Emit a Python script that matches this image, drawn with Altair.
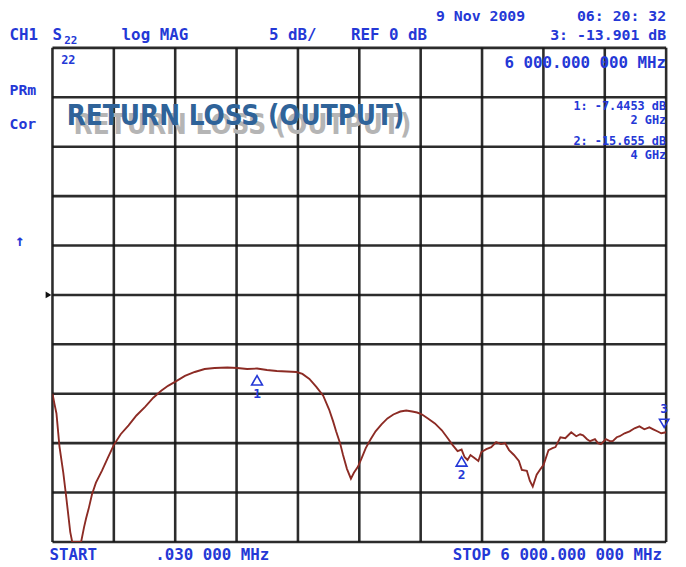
import altair as alt
import pandas as pd

# ---- trace data: S22 log magnitude (dB) vs frequency (GHz) ----
freq_ghz = [0.0003, 0.019, 0.039, 0.068, 0.106, 0.135, 0.174, 0.193, 0.242, 0.280,
            0.309, 0.329, 0.357, 0.386, 0.425, 0.483, 0.541, 0.599, 0.667, 0.744,
            0.821, 0.908, 0.986, 1.063, 1.130, 1.198, 1.295, 1.391, 1.488, 1.585,
            1.710, 1.807, 1.903, 2.000, 2.097, 2.193, 2.290, 2.386, 2.444, 2.512,
            2.580, 2.647, 2.705, 2.744, 2.773, 2.812, 2.841, 2.879, 2.918, 2.947,
            2.986, 3.024, 3.063, 3.111, 3.159, 3.217, 3.275, 3.333, 3.401, 3.459,
            3.517, 3.565, 3.614, 3.671, 3.739, 3.807, 3.865, 3.913, 3.961, 4.000,
            4.029, 4.058, 4.087, 4.126, 4.164, 4.193, 4.242, 4.290, 4.338, 4.386,
            4.425, 4.464, 4.512, 4.560, 4.589, 4.638, 4.667, 4.696, 4.734, 4.773,
            4.802, 4.850, 4.889, 4.918, 4.966, 5.014, 5.043, 5.072, 5.121, 5.159,
            5.188, 5.227, 5.256, 5.304, 5.333, 5.362, 5.411, 5.449, 5.478, 5.517,
            5.546, 5.594, 5.643, 5.691, 5.739, 5.787, 5.836, 5.874, 5.913, 5.952,
            6.000]
s22_db = [-10.0, -11.0, -12.0, -15.3, -18.0, -20.5, -24.0, -25.0, -25.0, -25.0,
          -23.5, -22.6, -21.5, -20.2, -19.0, -17.8, -16.5, -15.2, -14.1, -13.2,
          -12.2, -11.3, -10.4, -9.7, -9.2, -8.8, -8.2, -7.8, -7.5, -7.4,
          -7.35, -7.4, -7.5, -7.45, -7.6, -7.7, -7.75, -7.8, -8.0, -8.5,
          -9.3, -10.2, -11.6, -12.8, -13.8, -15.0, -16.2, -17.6, -18.6, -18.0,
          -17.4, -16.5, -15.5, -14.6, -13.8, -13.1, -12.5, -12.1, -11.8, -11.7,
          -11.8, -11.9, -12.1, -12.5, -13.0, -13.7, -14.5, -15.2, -15.8, -15.65,
          -16.4, -16.7, -16.2, -16.5, -16.8, -15.9, -15.6, -15.4, -14.9, -15.1,
          -15.0, -15.7, -16.2, -16.8, -17.7, -17.8, -18.8, -19.4, -18.2, -17.6,
          -17.2, -15.7, -15.5, -15.4, -14.4, -14.5, -14.2, -13.9, -14.3, -14.1,
          -14.2, -14.6, -14.8, -14.6, -15.0, -15.1, -14.6, -14.8, -14.8, -14.4,
          -14.3, -14.0, -13.8, -13.5, -13.3, -13.6, -13.4, -13.6, -13.8, -14.0,
          -13.9]

# ---- graticule: 10 x 10 divisions, 5 dB/div, REF 0 dB at centre ----
grid_x = [0.0, 0.6, 1.2, 1.8, 2.4, 3.0, 3.6, 4.2, 4.8, 5.4, 6.0]
grid_y = [-25, -20, -15, -10, -5, 0, 5, 10, 15, 20, 25]

# ---- markers ----
marker_freq = [2.0, 4.0, 6.0]
marker_db = [-7.4453, -15.655, -13.901]
marker_label = ["1", "2", "3"]

# ---- instrument annotations (freq GHz, dB, text, align, size) ----
ann_text = ["9 Nov 2009", "06: 20: 32", "CH1", "S", "22", "log MAG", "5 dB/",
            "REF 0 dB", "3: -13.901 dB", "6 000.000 000 MHz", "1: -7.4453 dB",
            "2 GHz", "2: -15.655 dB", "4 GHz", "PRm", "Cor", "22", "\u2191",
            "START", ".030 000 MHz", "STOP 6 000.000 000 MHz"]
ann_f = [3.75, 6.0, -0.42, 0.0, 0.115, 0.676, 2.116,
         2.918, 6.0, 6.0, 6.0,
         6.0, 6.0, 6.0, -0.42, -0.42, 0.085, -0.32,
         -0.03, 1.005, 5.96]
ann_db = [28.2, 28.2, 26.3, 26.3, 25.7, 26.3, 26.3,
          26.3, 26.3, 23.5, 19.1,
          17.7, 15.6, 14.2, 20.7, 17.3, 23.8, 5.5,
          -26.3, -26.3, -26.3]
ann_align = ["left", "right", "left", "left", "left", "left", "left",
             "left", "right", "right", "right",
             "right", "right", "right", "left", "left", "left", "center",
             "left", "left", "right"]
ann_size = [15, 15, 16, 16, 11, 16, 16,
            16, 15, 16, 12,
            12, 12, 12, 15, 15, 12, 16,
            16, 16, 16]

title_text = "RETURN LOSS (OUTPUT)"
title_f = [1.79]
title_db = [18.0]

trace = pd.DataFrame({"f": freq_ghz, "db": s22_db})
gx = pd.DataFrame({"gx": grid_x})
gy = pd.DataFrame({"gy": grid_y})
mk = pd.DataFrame({"f": marker_freq, "db": marker_db, "lab": marker_label})
ann = pd.DataFrame({"t": ann_text, "f": ann_f, "db": ann_db, "al": ann_align, "sz": ann_size})
ttl = pd.DataFrame({"t": [title_text], "f": title_f, "db": title_db})

xs = alt.Scale(domain=[0, 6], nice=False, zero=False)
ys = alt.Scale(domain=[-25, 25], nice=False, zero=False)
X = lambda field: alt.X(field, type="quantitative", scale=xs, axis=None)
Y = lambda field: alt.Y(field, type="quantitative", scale=ys, axis=None)

blue = "#2438d6"
grid_col = "#151515"
title_font = "'DejaVu Sans Condensed', Roboto, 'Liberation Sans', sans-serif"

vgrid = alt.Chart(gx).mark_rule(color=grid_col, strokeWidth=2.6, opacity=0.9).encode(x=X("gx"))
hgrid = alt.Chart(gy).mark_rule(color=grid_col, strokeWidth=2.6, opacity=0.9).encode(y=Y("gy"))

ref_mark = alt.Chart(pd.DataFrame({"f": [0.0], "db": [0.0]})).mark_point(
    shape="triangle-right", filled=True, color="#111111", size=45, xOffset=-4, opacity=1
).encode(x=X("f"), y=Y("db"))

title_shadow = alt.Chart(ttl).mark_text(
    font=title_font, fontWeight="bold", fontSize=28, color="#b5b5b5",
    dx=7, dy=9, align="center", baseline="middle"
).encode(x=X("f"), y=Y("db"), text="t:N")
title_main = alt.Chart(ttl).mark_text(
    font=title_font, fontWeight="bold", fontSize=28, color="#2f6399",
    align="center", baseline="middle"
).encode(x=X("f"), y=Y("db"), text="t:N")

line = alt.Chart(trace).mark_line(color="#8c2b24", strokeWidth=1.9, clip=True).encode(
    x=X("f"), y=Y("db"), order="f:Q"
)

mk_up = alt.Chart(mk[mk["lab"] != "3"]).mark_point(
    shape="triangle-up", filled=False, color=blue, size=120, strokeWidth=1.6, yOffset=12, opacity=1
).encode(x=X("f"), y=Y("db"))
mk_up_lab = alt.Chart(mk[mk["lab"] != "3"]).mark_text(
    font="DejaVu Sans Mono", fontWeight="bold", fontSize=13, color=blue, dy=26
).encode(x=X("f"), y=Y("db"), text="lab:N")
mk_dn = alt.Chart(mk[mk["lab"] == "3"]).mark_point(
    shape="triangle-down", filled=False, color=blue, size=90, strokeWidth=1.6, yOffset=-9, xOffset=-2, opacity=1
).encode(x=X("f"), y=Y("db"))
mk_dn_lab = alt.Chart(mk[mk["lab"] == "3"]).mark_text(
    font="DejaVu Sans Mono", fontWeight="bold", fontSize=13, color=blue, dy=-24, dx=-2
).encode(x=X("f"), y=Y("db"), text="lab:N")

layers = [vgrid, hgrid, ref_mark, title_shadow, title_main, line, mk_up, mk_up_lab, mk_dn, mk_dn_lab]
for al in ["left", "right", "center"]:
    sub = ann[ann["al"] == al]
    for sz in sorted(sub["sz"].unique()):
        part = sub[sub["sz"] == sz]
        layers.append(
            alt.Chart(part).mark_text(
                font="DejaVu Sans Mono", fontWeight="bold", fontSize=int(sz), color=blue,
                align=al, baseline="middle"
            ).encode(x=X("f"), y=Y("db"), text="t:N")
        )

chart = alt.layer(*layers).properties(
    width=621, height=500,
    autosize=alt.AutoSizeParams(type="none"),
    padding={"left": 45, "top": 37, "right": 12, "bottom": 22},
    background="white",
).configure_view(stroke=None)

chart.save("out.html", embed_options={"renderer": "svg", "actions": False})
